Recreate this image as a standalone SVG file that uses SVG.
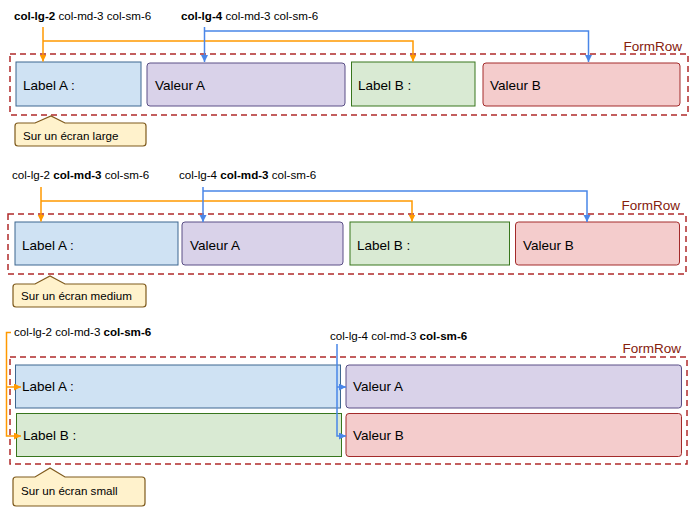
<svg xmlns="http://www.w3.org/2000/svg" width="700" height="525" viewBox="0 0 700 525">
<defs>
<marker id="ao" markerUnits="userSpaceOnUse" markerWidth="8" markerHeight="8" refX="7" refY="3.5" orient="auto"><path d="M0,0 L7,3.5 L0,7 z" fill="#ff9900"/></marker>
<marker id="ab" markerUnits="userSpaceOnUse" markerWidth="8" markerHeight="8" refX="7" refY="3.5" orient="auto"><path d="M0,0 L7,3.5 L0,7 z" fill="#4a86e8"/></marker>
</defs>
<style>
text{font-family:"Liberation Sans",Arial,sans-serif;fill:#000}
.cls{font-size:11.6px}
.cls .b{font-weight:bold}
.lbl{font-size:13.5px}
.fr{font-size:13.5px;fill:#85200c}
.row{fill:none;stroke:#b02a2a;stroke-width:1.5;stroke-dasharray:6,4}
.la{fill:#cfe2f3;stroke:#3d6790}
.va{fill:#d9d2e9;stroke:#5a4f86}
.lb{fill:#d9ead3;stroke:#38761d}
.vb{fill:#f4cccc;stroke:#a32a2a}
.call{fill:#fff2cc;stroke:#7f5a1c;stroke-width:1.2}
.co{fill:none;stroke:#ff9900;stroke-width:1.5}
.cb{fill:none;stroke:#4a86e8;stroke-width:1.5}
</style>

<!-- Section 1: large -->
<g id="s1-title1"><text class="cls" x="14" y="19.5"><tspan class="b">col-lg-2</tspan> col-md-3 col-sm-6</text></g>
<g id="s1-title2"><text class="cls" x="181" y="19.5"><tspan class="b">col-lg-4</tspan> col-md-3 col-sm-6</text></g>
<g id="s1-row"><rect class="row" x="10" y="54" width="678" height="61"/><text class="fr" x="682" y="51" text-anchor="end">FormRow</text></g>
<g id="s1-labelA"><rect class="la" x="16" y="62" width="125" height="44"/><text class="lbl" x="23" y="90">Label A :</text></g>
<g id="s1-valeurA"><rect class="va" x="147" y="63" width="198" height="43" rx="3"/><text class="lbl" x="155" y="90">Valeur A</text></g>
<g id="s1-labelB"><rect class="lb" x="351.5" y="62" width="123.5" height="44"/><text class="lbl" x="358" y="90">Label B :</text></g>
<g id="s1-valeurB"><rect class="vb" x="483" y="63" width="197" height="43" rx="3"/><text class="lbl" x="490" y="90">Valeur B</text></g>
<g id="s1-callout"><path class="call" d="M18,123 H35 L51,116 L65,123 H143 Q146,123 146,126 V143 Q146,146 143,146 H18 Q15,146 15,143 V126 Q15,123 18,123 Z"/><text class="cls" x="23" y="140">Sur un écran large</text></g>

<!-- Section 2: medium -->
<g id="s2-title1"><text class="cls" x="12" y="179"><tspan>col-lg-2 </tspan><tspan class="b">col-md-3</tspan> col-sm-6</text></g>
<g id="s2-title2"><text class="cls" x="179" y="179">col-lg-4 <tspan class="b">col-md-3</tspan> col-sm-6</text></g>
<g id="s2-row"><rect class="row" x="8" y="214" width="678" height="60"/><text class="fr" x="680" y="210" text-anchor="end">FormRow</text></g>
<g id="s2-labelA"><rect class="la" x="15" y="222" width="163" height="43"/><text class="lbl" x="22" y="250">Label A :</text></g>
<g id="s2-valeurA"><rect class="va" x="182" y="222" width="161" height="43" rx="3"/><text class="lbl" x="190" y="250">Valeur A</text></g>
<g id="s2-labelB"><rect class="lb" x="350" y="222" width="159.5" height="43"/><text class="lbl" x="357" y="250">Label B :</text></g>
<g id="s2-valeurB"><rect class="vb" x="515.5" y="222" width="164" height="43" rx="3"/><text class="lbl" x="523" y="250">Valeur B</text></g>
<g id="s2-callout"><path class="call" d="M16,284 H35 L50,276 L65,284 H143 Q146,284 146,287 V304 Q146,307 143,307 H16 Q13,307 13,304 V287 Q13,284 16,284 Z"/><text class="cls" x="21" y="300">Sur un écran medium</text></g>

<!-- Section 3: small -->
<g id="s3-title1"><text class="cls" x="14" y="335.5">col-lg-2 col-md-3 <tspan class="b">col-sm-6</tspan></text></g>
<g id="s3-title2"><text class="cls" x="330" y="339.5">col-lg-4 col-md-3 <tspan class="b">col-sm-6</tspan></text></g>
<g id="s3-row"><rect class="row" x="10" y="357" width="677" height="107"/><text class="fr" x="681" y="353" text-anchor="end">FormRow</text></g>
<g id="s3-labelA"><rect class="la" x="15.5" y="365" width="325" height="43"/><text class="lbl" x="22" y="391">Label A :</text></g>
<g id="s3-labelB"><rect class="lb" x="16.5" y="413.5" width="325" height="43"/><text class="lbl" x="23" y="440">Label B :</text></g>
<g id="s3-valeurA"><rect class="va" x="346" y="365" width="335.5" height="43" rx="3"/><text class="lbl" x="353" y="391">Valeur A</text></g>
<g id="s3-valeurB"><rect class="vb" x="346" y="413.5" width="335.5" height="43" rx="3"/><text class="lbl" x="353" y="440">Valeur B</text></g>
<g id="s3-callout"><path class="call" d="M16,477 H35 L50,468 L65,477 H142 Q145,477 145,480 V503 Q145,506 142,506 H16 Q13,506 13,503 V480 Q13,477 16,477 Z"/><text class="cls" x="21" y="495">Sur un écran small</text></g>

<g id="connectors">
<path class="co" d="M43,27 V61.5" marker-end="url(#ao)"/>
<path class="co" d="M43,41 H413 V61.5" marker-end="url(#ao)"/>
<path class="cb" d="M204.5,27 V62" marker-end="url(#ab)"/>
<path class="cb" d="M204.5,31 H588.5 V62" marker-end="url(#ab)"/>

<path class="co" d="M41,187 V221.5" marker-end="url(#ao)"/>
<path class="co" d="M41,201 H412 V221.5" marker-end="url(#ao)"/>
<path class="cb" d="M203,187 V222" marker-end="url(#ab)"/>
<path class="cb" d="M203,191 H587 V222" marker-end="url(#ab)"/>

<path class="co" d="M11,332.5 H6.5 V436 H21" marker-end="url(#ao)"/>
<path class="co" d="M6.5,387 H21" marker-end="url(#ao)"/>
<path class="cb" d="M337,344 V436 H346" marker-end="url(#ab)"/>
<path class="cb" d="M337,387 H346" marker-end="url(#ab)"/>
</g>
</svg>
